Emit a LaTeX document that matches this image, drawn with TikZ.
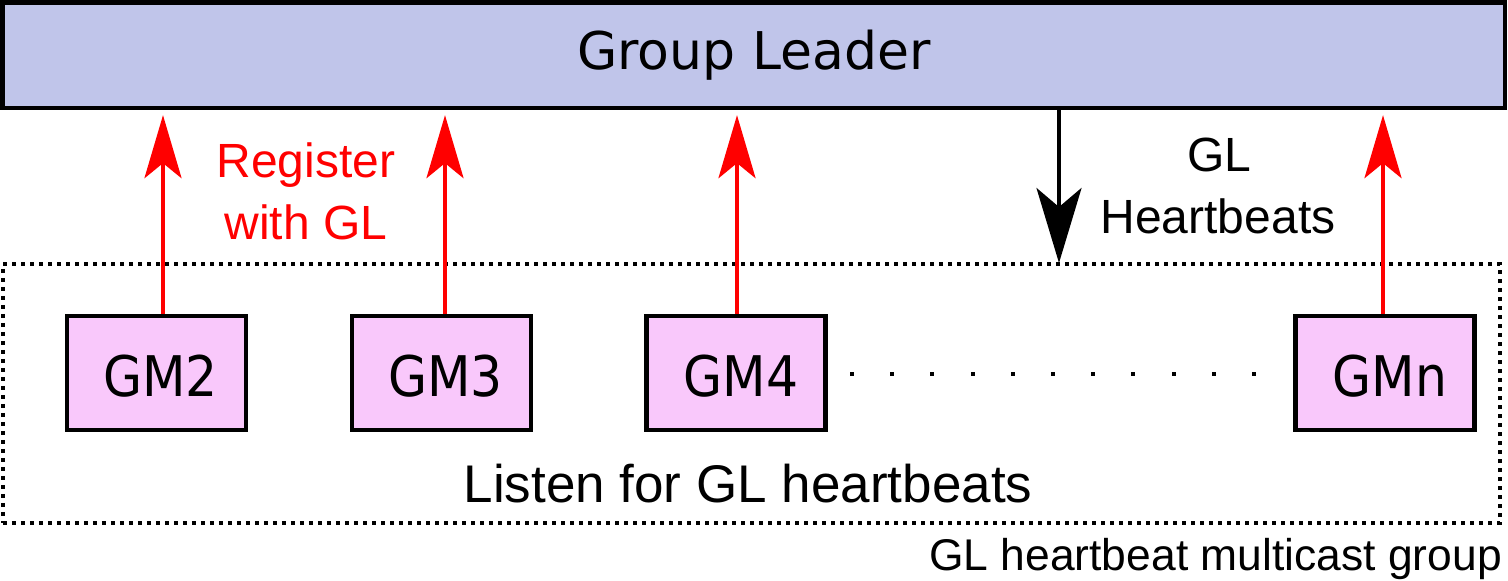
\documentclass[tikz,border=0pt]{standalone}
\usepackage{fontspec}
\setmainfont{Liberation Sans}
\newfontfamily\dvs{DejaVu Sans}
\newfontfamily\dvsn[FakeStretch=0.9]{DejaVu Sans}
\usetikzlibrary{arrows.meta}
\definecolor{glfill}{RGB}{192,197,234}
\definecolor{gmfill}{RGB}{249,200,251}
\definecolor{regred}{RGB}{255,0,0}
\begin{document}
\begin{tikzpicture}[x=1bp,y=-1bp,
  glbox/.style={draw,line width=4.3bp,fill=glfill,minimum width=1502.5bp,minimum height=105.5bp,
    inner sep=0,text height=40bp,text depth=10.5bp,font=\dvs\fontsize{52bp}{60bp}\selectfont},
  gmbox/.style={draw,line width=4.3bp,fill=gmfill,minimum width=179bp,minimum height=114bp,
    inner sep=0,text height=46bp,text depth=0bp,font=\dvsn\fontsize{56bp}{64bp}\selectfont},
  grpbox/.style={draw,line width=4bp,dash pattern=on 4bp off 5bp,minimum width=1497bp,
    minimum height=259bp,inner sep=0},
  regarrow/.style={draw=regred,line width=4.2bp,shorten >=5bp,
    -{Stealth[length=63bp,width=37bp,inset=15bp]}},
  hbarrow/.style={draw=black,line width=3.8bp,shorten >=-1bp,
    -{Stealth[length=75bp,width=45bp,inset=19bp]}},
  regtext/.style={anchor=base,inner sep=0,text=regred,font=\fontsize{48bp}{58bp}\selectfont},
  hbtext/.style={anchor=base,inner sep=0,font=\fontsize{48bp}{58bp}\selectfont},
  listentext/.style={anchor=base,inner sep=0,font=\fontsize{53bp}{62bp}\selectfont},
  grptext/.style={anchor=base east,inner sep=0,font=\fontsize{44.4bp}{52bp}\selectfont},
  dotsq/.style={fill=black}
]
\useasboundingbox (0,0) rectangle (1508,581);

% multicast group (dotted)
\node[grpbox] (grp) at (751.5,393.5) {};

% group leader
\node[glbox] (gl) at (753.75,55.25) {Group Leader};

% group members
\node[gmbox] (gm2) at (156.5,373) {\hspace*{8bp}GM2};
\node[gmbox] (gm3) at (441.5,373) {\hspace*{8bp}GM3};
\node[gmbox] (gm4) at (736,373) {\hspace*{10bp}GM4};
\node[gmbox] (gmn) at (1385,373) {\hspace*{10bp}GMn};

% register arrows
\draw[regarrow] ([xshift=6.5bp]gm2.north) -- ([xshift=6.5bp]gm2.north |- gl.south);
\draw[regarrow] ([xshift=3.5bp]gm3.north) -- ([xshift=3.5bp]gm3.north |- gl.south);
\draw[regarrow] ([xshift=1bp]gm4.north) -- ([xshift=1bp]gm4.north |- gl.south);
\draw[regarrow] ([xshift=-2bp]gmn.north) -- ([xshift=-2bp]gmn.north |- gl.south);

% heartbeat arrow
\draw[hbarrow] ([xshift=305.25bp]gl.south) -- ([xshift=305.25bp]gl.south |- grp.north);

% labels
\node[regtext] (reg1) at (306,178) {Register};
\node[regtext] (reg2) at (306,239) {with GL};
\node[hbtext] (hb1) at (1219,172) {GL};
\node[hbtext] (hb2) at (1218,233) {Heartbeats};
\node[listentext] (listen) at (748,502) {Listen for GL heartbeats};
\node[grptext] (grplabel) at (1502,570) {GL heartbeat multicast group};

% dots between GM4 and GMn
\foreach \i in {0,...,10} {
  \fill[dotsq] (850+40.2*\i,372) rectangle ++(4,4);
}
\end{tikzpicture}
\end{document}
